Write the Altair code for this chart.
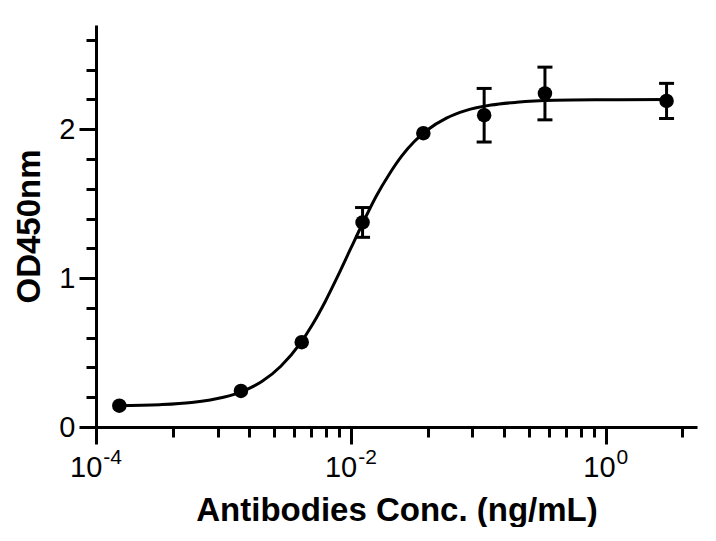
import altair as alt
import pandas as pd

# Measured points (ng/mL) and OD450 means / error
conc = [0.0001524, 0.001372, 0.004115, 0.01235, 0.03704, 0.1111, 0.3333, 3.0]
od = [0.143, 0.242, 0.570, 1.374, 1.973, 2.094, 2.240, 2.190]
err = [0.0, 0.0, 0.0, 0.10, 0.0, 0.18, 0.177, 0.118]

# Fitted curve
curve_x = [0.000148, 0.000316, 0.000562, 0.001, 0.00141, 0.002, 0.00282, 0.00398,
           0.00501, 0.00631, 0.00794, 0.01, 0.0126, 0.0158, 0.02, 0.0251, 0.0316,
           0.0398, 0.0562, 0.0794, 0.126, 0.2, 0.398, 1.0, 3.02]
curve_y = [0.143, 0.150, 0.165, 0.200, 0.240, 0.305, 0.408, 0.558,
           0.690, 0.845, 1.018, 1.201, 1.382, 1.550, 1.698, 1.821, 1.919,
           1.995, 2.075, 2.125, 2.162, 2.181, 2.194, 2.198, 2.200]

# Axis ticks
x_major = [0.0001, 0.01, 1.0]
x_exponents = ["-4", "-2", "0"]
x_minor = [0.0004, 0.0009, 0.0016, 0.0025, 0.0036, 0.0049, 0.0064, 0.0081,
           0.04, 0.09, 0.16, 0.25, 0.36, 0.49, 0.64, 0.81, 4.0]
y_ticks = [0.0, 0.2, 0.4, 0.6, 0.8, 1.0, 1.2, 1.4, 1.6, 1.8, 2.0, 2.2, 2.4, 2.6]

pts = pd.DataFrame({"conc": conc, "od": od, "err": err})
pts["lo"] = pts["od"] - pts["err"]
pts["hi"] = pts["od"] + pts["err"]
curve = pd.DataFrame({"conc": curve_x, "od": curve_y})

FONT = "Liberation Sans"
BASE_SIZE = 29
EXP_SIZE = 21
H = 402

xscale = alt.Scale(type="log", domain=[0.0001, 5.2], nice=False)
yscale = alt.Scale(domain=[0, 2.7], nice=False)

x_major_test = "abs(log(datum.value)/log(10) - round(log(datum.value)/log(10))) < 0.001 && round(log(datum.value)/log(10)) % 2 == 0"
x_axis = alt.Axis(
    values=x_major + x_minor,
    tickCount=100,
    labels=False,
    tickSize={"condition": {"test": x_major_test, "value": 17}, "value": 10},
    title="Antibodies Conc. (ng/mL)",
    titlePadding=49,
    grid=False,
)
y_major_test = "abs(datum.value - round(datum.value)) < 0.001"
y_axis = alt.Axis(
    values=y_ticks,
    tickCount=100,
    labelExpr=f"({y_major_test}) ? format(round(datum.value), 'd') : ''",
    tickSize={"condition": {"test": y_major_test, "value": 17}, "value": 10},
    title="OD450nm",
    labelPadding=4,
    titlePadding=12,
    labelOverlap=False,
    grid=False,
)

line = alt.Chart(curve).mark_line(color="black", strokeWidth=3, interpolate="monotone").encode(
    x=alt.X("conc:Q", scale=xscale, axis=x_axis),
    y=alt.Y("od:Q", scale=yscale, axis=y_axis),
)

eb_base = alt.Chart(pts).transform_filter("datum.err > 0")
rules = eb_base.mark_rule(color="black", strokeWidth=3, opacity=1).encode(
    x=alt.X("conc:Q", scale=xscale),
    y=alt.Y("lo:Q", scale=yscale),
    y2="hi:Q",
)
caps_lo = eb_base.mark_tick(color="black", orient="horizontal", size=15, thickness=3, opacity=1).encode(
    x=alt.X("conc:Q", scale=xscale),
    y=alt.Y("lo:Q", scale=yscale),
)
caps_hi = eb_base.mark_tick(color="black", orient="horizontal", size=15, thickness=3, opacity=1).encode(
    x=alt.X("conc:Q", scale=xscale),
    y=alt.Y("hi:Q", scale=yscale),
)
dots = alt.Chart(pts).mark_point(filled=True, color="black", opacity=1, size=210, shape="circle").encode(
    x=alt.X("conc:Q", scale=xscale),
    y=alt.Y("od:Q", scale=yscale),
)

# Tick labels of the log axis: "10" with a raised exponent, centred as one string
label_layers = []
for val, ex in zip(x_major, x_exponents):
    w_base = 2 * 0.556 * BASE_SIZE
    w_exp = sum((0.333 if ch == "-" else 0.556) for ch in ex) * EXP_SIZE
    total = w_base + 1 + w_exp
    d = pd.DataFrame({"conc": [val], "base": ["10"], "exp": [ex]})
    label_layers.append(
        alt.Chart(d).mark_text(font=FONT, fontSize=BASE_SIZE, color="black", align="left",
                               baseline="alphabetic", dx=-total / 2).encode(
            x=alt.X("conc:Q", scale=xscale), y=alt.value(H + 50), text="base:N")
    )
    label_layers.append(
        alt.Chart(d).mark_text(font=FONT, fontSize=EXP_SIZE, color="black", align="left",
                               baseline="alphabetic", dx=-total / 2 + w_base + 1).encode(
            x=alt.X("conc:Q", scale=xscale), y=alt.value(H + 37), text="exp:N")
    )

chart = alt.layer(line, rules, caps_lo, caps_hi, dots, *label_layers).properties(
    width=601,
    height=H,
    autosize=alt.AutoSizeParams(type="none"),
    padding={"left": 88, "top": 17, "right": 10, "bottom": 100},
    background="white",
).configure_view(stroke=None).configure_axis(
    domainColor="black",
    domainWidth=3,
    tickColor="black",
    tickWidth=3,
    labelFont=FONT,
    labelFontSize=BASE_SIZE,
    labelColor="black",
    titleFont=FONT,
    titleFontSize=33,
    titleFontWeight="bold",
    titleColor="black",
)

chart.save("out.html", embed_options={"renderer": "svg", "actions": False})
